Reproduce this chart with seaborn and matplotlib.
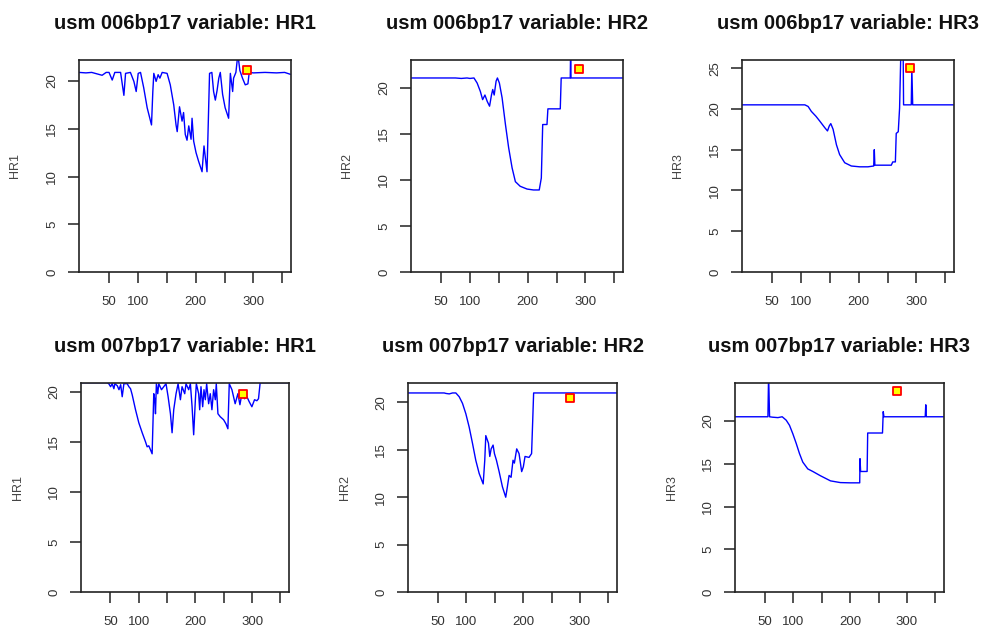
import matplotlib
matplotlib.use('Agg')
import matplotlib.pyplot as plt
import seaborn as sns

# usm 006bp17
hr1_006_x = [-2, 10, 20, 32, 38, 45, 50, 55.5, 60, 70,
             75.7, 78.6, 87, 93, 97, 100.5, 104.5, 110, 116, 120.6,
             123.5, 125.8, 127.5, 131.5, 135, 138, 142, 150.5, 156, 162,
             166, 168, 172, 176.4, 179, 182, 185, 188, 192, 193.7,
             196.5, 200.6, 205, 211, 214.4, 216.7, 219.6, 224, 228, 231,
             234, 237, 240, 242.6, 246.6, 251, 257, 260, 264, 265.6,
             269.6, 273, 276.5, 281, 285.8, 290.4, 292.7, 300, 320, 340,
             354, 364]
hr1_006_y = [20.9, 20.85, 20.9, 20.7, 20.6, 20.9, 20.9, 20.1, 20.9, 20.9,
             18.5, 20.8, 20.9, 19.96, 18.9, 20.8, 20.9, 19.3, 17.2, 16.1,
             15.4, 18.9, 20.8, 19.96, 20.66, 20.3, 20.9, 20.8, 19.6, 17.5,
             15.4, 14.7, 17.3, 15.8, 16.7, 14.4, 13.8, 15.3, 13.9, 16.1,
             13.7, 12.5, 11.6, 10.5, 13.2, 12.0, 10.5, 20.8, 20.9, 18.9,
             18.0, 19.0, 20.3, 20.9, 18.6, 17.2, 16.1, 20.8, 18.9, 20.3,
             20.9, 22.8, 21.1, 20.3, 19.6, 19.7, 20.9, 20.85, 20.9, 20.85,
             20.9, 20.7]

hr2_006_x = [-2, 75, 85, 95, 100, 107, 112.5, 118, 122, 126,
             130, 134, 137.3, 139.5, 142, 145.3, 147.6, 151, 155.7, 161.5,
             167, 173, 178.7, 187, 198.9, 210, 220, 223.6, 226, 233.4,
             235, 256.4, 258, 273.7, 274.3, 275, 364]
hr2_006_y = [21.05, 21.05, 21.0, 21.05, 21.0, 21.05, 20.5, 19.6, 18.7, 19.2,
             18.5, 17.99, 19.2, 19.8, 19.2, 20.7, 21.05, 20.5, 18.9, 16.0,
             13.5, 11.3, 9.8, 9.3, 9.0, 8.9, 8.9, 10.2, 16.0, 16.0,
             17.7, 17.7, 21.05, 21.05, 24.0, 21.05, 21.05]

hr3_006_x = [-2, 106.8, 112.5, 118, 126, 132.7, 141.3, 146, 149, 151.7,
             155.7, 161.5, 167, 175.8, 187.3, 201.7, 216, 226, 227, 228,
             256.4, 259, 263.5, 265, 268.5, 270.8, 273, 274.5, 277, 277.7,
             291, 292, 293.5, 364]
hr3_006_y = [20.5, 20.5, 20.3, 19.7, 19.1, 18.5, 17.7, 17.3, 17.9, 18.2,
             17.5, 15.6, 14.4, 13.4, 13.0, 12.9, 12.9, 13.0, 15.0, 13.1,
             13.1, 13.5, 13.5, 17.0, 17.2, 20.1, 27.0, 27.0, 27.0, 20.5,
             20.5, 25.0, 20.5, 20.5]

# usm 007bp17
hr1_007_x = [-2, 44, 47, 50.2, 53, 56, 57.8, 62, 65, 68,
             70.7, 73.7, 79.5, 82.5, 85.4, 88.3, 94.2, 100, 106, 111.8,
             114.7, 117.6, 120.6, 123.5, 126.4, 128.2, 129.4, 131, 133.4, 135.2,
             140, 144, 148, 151.7, 155.8, 158.7, 161.6, 165.7, 169.3, 173.4,
             176.3, 181, 183.3, 188, 191, 194, 196.8, 199.8, 201.5, 205.6,
             207.4, 209.7, 212.7, 215, 217.4, 219.7, 223.2, 226.1, 229, 232,
             235, 236.7, 239.6, 243.7, 249.6, 253.7, 257.2, 259.6, 264.3, 270,
             274.8, 278.4, 281.9, 286.5, 290.7, 294.8, 299.5, 304.2, 308.3, 311.2,
             314.1, 364]
hr1_007_y = [20.9, 20.9, 20.8, 20.5, 20.8, 20.3, 20.8, 20.6, 20.2, 20.7,
             19.5, 20.8, 20.8, 20.5, 20.3, 19.7, 18.2, 16.9, 15.9, 15.0,
             14.5, 14.6, 14.2, 13.8, 19.8, 19.2, 17.8, 20.8, 19.8, 20.8,
             20.2, 20.5, 20.8, 19.5, 17.8, 15.9, 18.2, 19.8, 20.8, 19.2,
             20.5, 19.8, 20.8, 20.2, 20.8, 18.5, 15.7, 19.2, 20.8, 19.8,
             18.2, 20.5, 18.5, 20.2, 19.2, 20.8, 18.8, 19.8, 18.2, 20.2,
             19.2, 20.8, 17.8, 17.5, 17.2, 16.8, 16.3, 20.8, 20.2, 18.8,
             19.8, 18.7, 19.8, 19.3, 19.5, 19.0, 18.5, 19.2, 19.1, 19.3,
             20.9, 20.9]

hr2_007_x = [-2, 61.6, 64.5, 70.4, 76.2, 82, 87.9, 93.7, 99.6, 105.4,
             111.2, 117, 123, 130, 132.8, 134.6, 139.3, 141.6, 144, 147.4,
             149.8, 153.3, 158, 163.8, 169.6, 172.5, 175.5, 179, 182.4, 184.8,
             188.9, 193, 197.6, 200.5, 203.5, 210.5, 215, 217, 218.6, 365]
hr2_007_y = [21.0, 21.0, 20.95, 20.9, 21.0, 21.0, 20.6, 19.9, 18.8, 17.4,
             15.7, 13.9, 12.5, 11.4, 13.9, 16.5, 15.7, 14.3, 15.1, 15.5,
             14.6, 13.9, 12.7, 11.1, 10.0, 11.1, 12.3, 12.1, 13.9, 13.6,
             15.1, 14.6, 12.7, 13.2, 14.3, 14.2, 14.6, 18.1, 21.0, 21.0]

hr3_007_x = [-2, 55.8, 57, 58.7, 64, 73.3, 80.9, 87.9, 93.7, 99.6,
             105.4, 111.2, 117, 125.8, 134.6, 148, 165.7, 183, 200, 217,
             217.5, 218.6, 230, 231, 257, 258.3, 259.5, 332, 333, 334, 364]
hr3_007_y = [20.5, 20.5, 25.5, 20.5, 20.45, 20.4, 20.5, 20.1, 19.5, 18.5,
             17.4, 16.2, 15.2, 14.4, 14.1, 13.6, 13.0, 12.8, 12.77, 12.77,
             15.6, 14.1, 14.1, 18.6, 18.6, 21.1, 20.5, 20.5, 21.9, 20.5, 20.5]

# highlighted point per panel
mark_x = [289, 289, 288.5, 284, 283, 282]
mark_y = [21.2, 22.0, 25.0, 19.8, 20.5, 23.5]

titles = ['usm 006bp17 variable: HR1', 'usm 006bp17 variable: HR2',
          'usm 006bp17 variable: HR3', 'usm 007bp17 variable: HR1',
          'usm 007bp17 variable: HR2', 'usm 007bp17 variable: HR3']
ylabels = ['HR1', 'HR2', 'HR3', 'HR1', 'HR2', 'HR3']
xtick_vals = [50, 100, 150, 200, 250, 300, 350]
xtick_labels = ['50', '100', '', '200', '', '300', '']

series = [(hr1_006_x, hr1_006_y), (hr2_006_x, hr2_006_y), (hr3_006_x, hr3_006_y),
          (hr1_007_x, hr1_007_y), (hr2_007_x, hr2_007_y), (hr3_007_x, hr3_007_y)]
ymax = [22.2, 23.0, 26.0, 20.87, 22.05, 24.45]

sns.set_theme(style='ticks')
plt.rcParams['font.family'] = ['Liberation Sans', 'DejaVu Sans']

W, H = 982, 630
# pixel boxes: left, top, right, bottom
boxes = [(79, 60, 291, 272), (411, 60, 623, 272), (742, 60, 954, 272),
         (81, 383, 289, 592), (408, 383, 617, 592), (735, 383, 944, 592)]

fig = plt.figure(figsize=(W / 100, H / 100), dpi=100)

for i, (l, t, r, b) in enumerate(boxes):
    ax = fig.add_axes([l / W, 1 - b / H, (r - l) / W, (b - t) / H])
    xs, ys = series[i]
    sns.lineplot(x=xs, y=ys, ax=ax, color='#0000ff', lw=1.0,
                 estimator=None, sort=False)
    sns.scatterplot(x=[mark_x[i]], y=[mark_y[i]], ax=ax, marker='s', s=38,
                    color='yellow', edgecolor='red', linewidth=1.3, zorder=5)
    ax.set_xlim(-2, 365)
    ax.set_ylim(0, ymax[i])
    ax.set_xticks(xtick_vals)
    ax.set_xticklabels(xtick_labels)
    ax.set_yticks(list(range(0, int(ymax[i]) + 1, 5)))
    ax.tick_params(direction='out', length=8, width=1.1, color='#222222',
                   labelsize=9.5, labelcolor='#333333')
    ax.tick_params(axis='x', pad=9)
    ax.tick_params(axis='y', pad=7, labelrotation=90)
    for lbl in ax.get_yticklabels():
        lbl.set_va('center')
    for sp in ax.spines.values():
        sp.set_linewidth(1.2)
        sp.set_color('#222222')
    ax.set_title(titles[i], fontsize=14.5, fontweight='bold', pad=22,
                 color='#111111')
    ax.set_ylabel(ylabels[i], fontsize=9, color='#444444')
    ax.yaxis.set_label_coords(-0.275, 0.5)
    ax.set_xlabel('')

fig.savefig('out.png', dpi=100)
